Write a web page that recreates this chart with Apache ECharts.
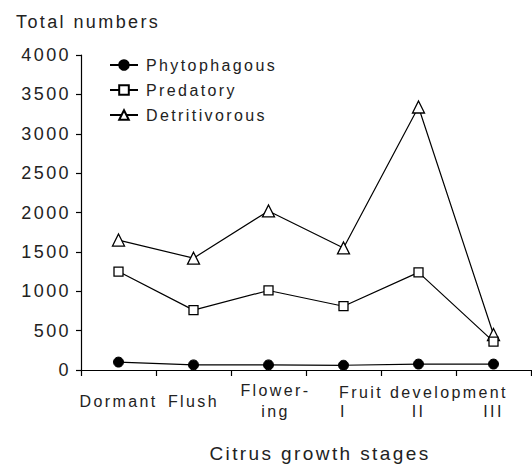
<!DOCTYPE html>
<html><head><meta charset="utf-8">
<script src="https://cdn.jsdelivr.net/npm/echarts@6/dist/echarts.min.js"></script>
<style>
html,body{margin:0;padding:0;background:#fff;}
#c{width:532px;height:468px;}
#c text{letter-spacing:2.4px;}
</style></head><body><div id="c"></div>
<script>
// ---- data ----
const stageLabels = ['Dormant', 'Flush', 'Flower-\ning', 'I', 'II', 'III'];
const groupLabel = 'Fruit development';
const groupStage = 'II';
const seriesNames = ['Phytophagous', 'Predatory', 'Detritivorous'];
const phytophagous = [100, 65, 65, 60, 75, 75];
const predatory = [1250, 760, 1010, 810, 1240, 360];
const detritivorous = [1650, 1420, 2020, 1550, 3340, 450];
const yTicks = [0, 500, 1000, 1500, 2000, 2500, 3000, 3500, 4000];
const yTitle = 'Total numbers';
const xTitle = 'Citrus growth stages';

// ---- chart ----
const FONT = '"Liberation Sans", Arial, sans-serif';
const INK = '#222';
const chart = echarts.init(document.getElementById('c'), null, {renderer: 'svg'});

function lineSeries(name, data, symbol, size, filled, z) {
  return {
    name: name, type: 'line', data: data, z: z,
    symbol: symbol, symbolSize: size,
    lineStyle: {color: '#000', width: 1.2},
    itemStyle: filled ? {color: '#000', borderColor: '#000', borderWidth: 1}
                      : {color: '#fff', borderColor: '#000', borderWidth: 1.3},
    emphasis: {disabled: true}
  };
}

const xData = stageLabels.map(function (s) {
  return s.indexOf('\n') >= 0 ? {value: s, textStyle: {padding: [0, 0, 0, 14]}} : s;
});

chart.setOption({
  animation: false,
  backgroundColor: '#fff',
  title: {
    text: yTitle, left: 11, top: 8,
    textStyle: {fontFamily: FONT, fontSize: 18, fontWeight: 'normal', color: INK}
  },
  grid: {left: 81, right: 1, top: 55, bottom: 97},
  legend: {
    orient: 'vertical', left: 104, top: 52,
    itemWidth: 28, itemHeight: 12, itemGap: 9,
    data: seriesNames,
    textStyle: {fontFamily: FONT, fontSize: 16, color: INK, padding: [0, 0, 0, 3]}
  },
  xAxis: {
    type: 'category', data: xData, boundaryGap: true,
    axisLine: {lineStyle: {color: '#000', width: 1.2}},
    axisTick: {show: true, length: 6, lineStyle: {color: '#000', width: 1.2}},
    axisLabel: {
      interval: 0, margin: 10, fontFamily: FONT, fontSize: 16, color: INK, lineHeight: 21,
      formatter: function (v) {
        if (v.indexOf('\n') >= 0) return v;
        if (/^I+$/.test(v)) return ' \n' + v;
        return '{one|' + v + '}';
      },
      rich: {one: {lineHeight: 42, fontFamily: FONT, fontSize: 16, color: INK}}
    },
    name: xTitle, nameLocation: 'middle', nameGap: 74,
    nameTextStyle: {fontFamily: FONT, fontSize: 19, color: INK, padding: [0, 0, 0, 28]}
  },
  yAxis: {
    type: 'value', min: yTicks[0], max: yTicks[yTicks.length - 1], interval: yTicks[1] - yTicks[0],
    axisLine: {show: true, lineStyle: {color: '#000', width: 1.2}},
    axisTick: {show: true, length: 5, lineStyle: {color: '#000', width: 1.2}},
    splitLine: {show: false},
    axisLabel: {margin: 10, fontFamily: FONT, fontSize: 18, color: INK,
      formatter: function (v) { return String(v); }}
  },
  series: [
    lineSeries(seriesNames[0], phytophagous, 'circle', 10, true, 4),
    lineSeries(seriesNames[1], predatory, 'rect', 9, false, 3),
    lineSeries(seriesNames[2], detritivorous, 'triangle', 12, false, 2)
  ]
});

const gx = chart.convertToPixel({xAxisIndex: 0}, groupStage);
const gy = chart.convertToPixel({yAxisIndex: 0}, 0);
chart.setOption({
  graphic: [{
    type: 'text', x: gx + 5, y: gy + 22,
    style: {text: groupLabel, font: '16px ' + FONT, fill: INK, textAlign: 'center', textVerticalAlign: 'middle'}
  }]
});
</script></body></html>
